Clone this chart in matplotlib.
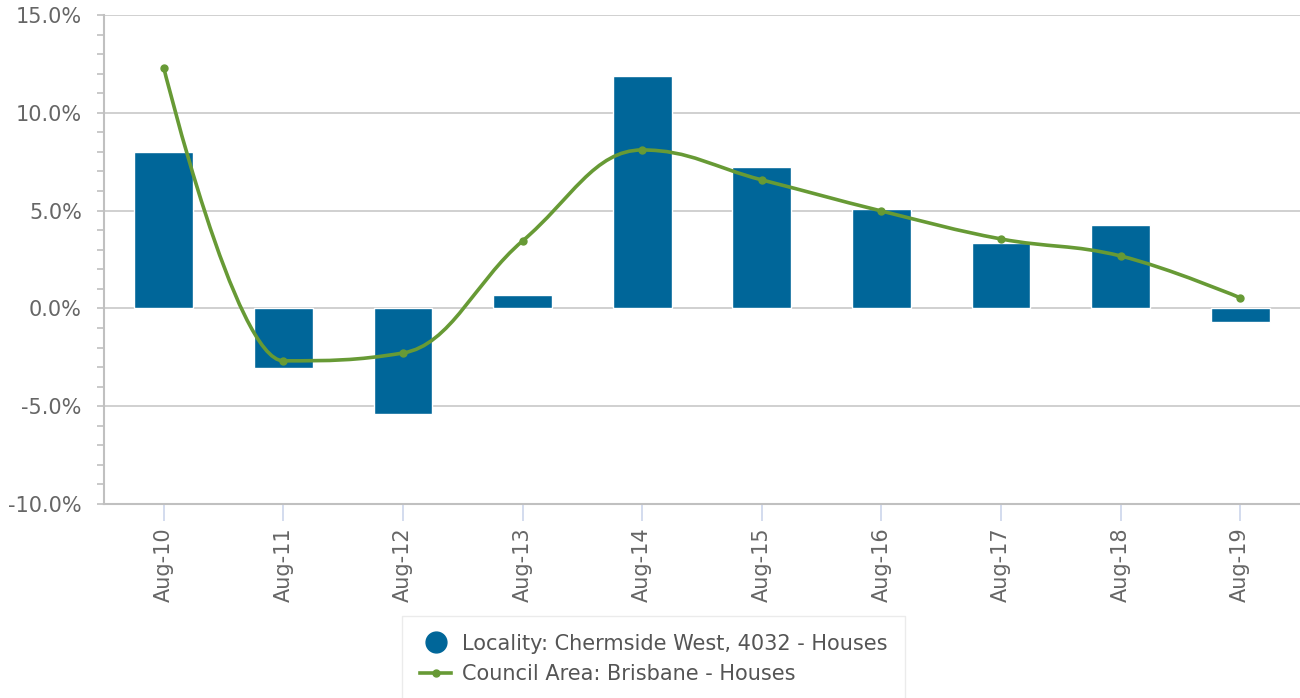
import matplotlib.pyplot as plt
import numpy as np
from matplotlib.path import Path
from matplotlib.patches import PathPatch
from matplotlib.lines import Line2D
from matplotlib.ticker import MultipleLocator, FuncFormatter

# Datos
years = ['Aug-10', 'Aug-11', 'Aug-12', 'Aug-13', 'Aug-14',
         'Aug-15', 'Aug-16', 'Aug-17', 'Aug-18', 'Aug-19']
locality = [8.0, -3.05, -5.4, 0.69, 11.9, 7.23, 5.09, 3.35, 4.27, -0.69]
council = [12.3, -2.68, -2.28, 3.45, 8.1, 6.57, 4.98, 3.55, 2.68, 0.54]

locality_label = 'Locality: Chermside West, 4032 - Houses'
council_label = 'Council Area: Brisbane - Houses'

bar_color = '#006699'
line_color = '#679a35'
text_color = '#666666'
axis_color = '#c0c0c0'


def spline_path(xs, ys, smoothing=1.5):
    # curva suave con puntos de control tipo Highcharts
    n = len(xs)
    left = [(xs[i], ys[i]) for i in range(n)]
    right = [(xs[i], ys[i]) for i in range(n)]
    denom = smoothing + 1
    for i in range(1, n - 1):
        px, py = xs[i], ys[i]
        lx, ly = xs[i - 1], ys[i - 1]
        nx, ny = xs[i + 1], ys[i + 1]
        lcx = (smoothing * px + lx) / denom
        lcy = (smoothing * py + ly) / denom
        rcx = (smoothing * px + nx) / denom
        rcy = (smoothing * py + ny) / denom
        corr = 0
        if rcx != lcx:
            corr = (rcy - lcy) * (rcx - px) / (rcx - lcx) + py - rcy
        lcy += corr
        rcy += corr
        if lcy > ly and lcy > py:
            lcy = max(ly, py)
            rcy = 2 * py - lcy
        elif lcy < ly and lcy < py:
            lcy = min(ly, py)
            rcy = 2 * py - lcy
        if rcy > ny and rcy > py:
            rcy = max(ny, py)
            lcy = 2 * py - rcy
        elif rcy < ny and rcy < py:
            rcy = min(ny, py)
            lcy = 2 * py - rcy
        left[i] = (lcx, lcy)
        right[i] = (rcx, rcy)
    verts = [(xs[0], ys[0])]
    codes = [Path.MOVETO]
    for i in range(1, n):
        verts += [right[i - 1], left[i], (xs[i], ys[i])]
        codes += [Path.CURVE4] * 3
    return Path(verts, codes)


fig = plt.figure(figsize=(13, 6.98), dpi=100)
ax = fig.add_axes([104 / 1300, 1 - 504 / 698, 1 - 104 / 1300, (504 - 15) / 698])

x = np.arange(len(years))

ax.bar(x, locality, width=0.49, color=bar_color, edgecolor='white', linewidth=1, zorder=2)

path = spline_path(list(x), council)
ax.add_patch(PathPatch(path, facecolor='none', edgecolor=line_color, linewidth=2.6,
                       capstyle='round', zorder=3))
ax.plot(x, council, linestyle='none', marker='o', markersize=5, color=line_color, zorder=4)

ax.set_xlim(-0.5, 9.5)
ax.set_ylim(-10, 15)

ax.yaxis.set_major_locator(MultipleLocator(5))
ax.yaxis.set_minor_locator(MultipleLocator(1))
ax.yaxis.set_major_formatter(FuncFormatter(lambda v, p: f'{v:.1f}%'))
ax.grid(axis='y', color='#c8c8c8', linewidth=1.2, zorder=0)
ax.set_axisbelow(True)

ax.set_xticks(x)
ax.set_xticklabels(years, rotation=90)

for s in ['top', 'right']:
    ax.spines[s].set_visible(False)
for s in ['left', 'bottom']:
    ax.spines[s].set_color(axis_color)
    ax.spines[s].set_linewidth(1.5)

ax.tick_params(axis='y', which='both', length=5, width=1.2, color=axis_color,
               labelsize=15, labelcolor=text_color, pad=11)
ax.tick_params(axis='x', length=12, width=1.2, color='#ccd6eb',
               labelsize=15, labelcolor=text_color, pad=5)

handles = [
    Line2D([], [], linestyle='none', marker='o', markersize=15, color=bar_color),
    Line2D([], [], color=line_color, linewidth=2.6, marker='o', markersize=5),
]
leg = fig.legend(handles, [locality_label, council_label], loc='upper center',
                 bbox_to_anchor=(653.5 / 1300, 1 - 616 / 698), fontsize=15,
                 frameon=True, fancybox=False, edgecolor='#e6e6e6', handlelength=1.5,
                 handletextpad=0.5, labelspacing=0.5, borderpad=0.85, borderaxespad=0)
for t in leg.get_texts():
    t.set_color('#555555')
leg.get_frame().set_linewidth(1)

plt.savefig('out.png', dpi=100)
